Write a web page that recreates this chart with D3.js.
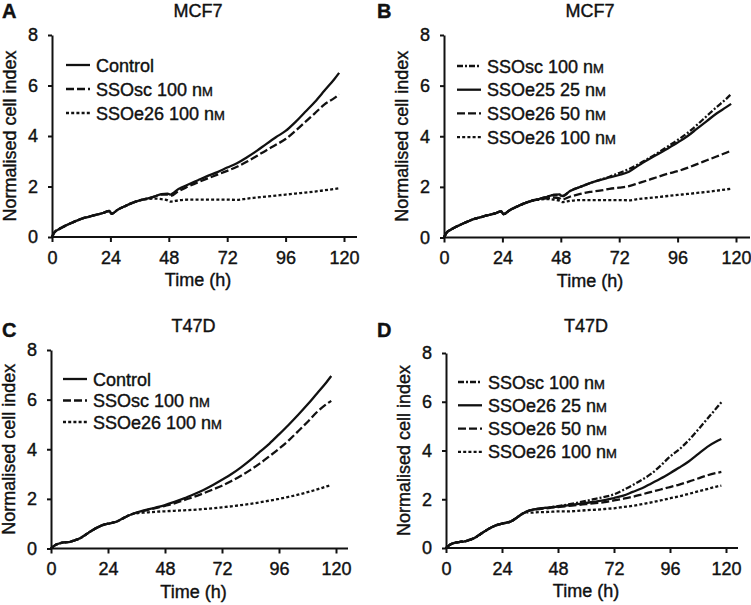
<!DOCTYPE html>
<html>
<head>
<meta charset="utf-8">
<script src="https://cdn.jsdelivr.net/npm/d3@7"></script>
<style>
  body { margin: 0; background: #fff; }
  svg text { font-family: "Liberation Sans", Arial, sans-serif; fill: #111; stroke: #111; stroke-width: 0.4px; }
</style>
</head>
<body>
<svg id="fig" width="751" height="605"></svg>
<script>
// ---- data ----
const mcfTime = [0, 1, 3, 6, 9, 12, 15, 18, 21, 23.5, 24.5, 27, 30, 33, 36, 39, 42, 45, 47.5, 48.5,
  52, 56, 60, 64, 68, 72, 76, 80, 84, 88, 92, 96, 100, 104, 108, 112, 116, 118];
const mcfEarly = [0, 0.18, 0.32, 0.47, 0.6, 0.72, 0.8, 0.88, 0.95, 1.03, 0.92, 1.08, 1.22, 1.35, 1.45];

const mcfControl = mcfEarly.concat([1.52, 1.6, 1.7, 1.72, 1.68,
  1.9, 2.08, 2.25, 2.42, 2.57, 2.75, 2.92, 3.15, 3.4, 3.68, 3.95, 4.2, 4.55, 4.95, 5.35, 5.8, 6.25, 6.5]);
const mcfScA = mcfEarly.concat([1.52, 1.6, 1.68, 1.68, 1.62,
  1.82, 2.0, 2.17, 2.32, 2.47, 2.62, 2.78, 2.98, 3.2, 3.43, 3.65, 3.88, 4.2, 4.55, 4.9, 5.25, 5.5, 5.65]);
const mcfE26_100 = mcfEarly.concat([1.5, 1.52, 1.5, 1.45, 1.4,
  1.45, 1.48, 1.48, 1.48, 1.48, 1.48, 1.47, 1.52, 1.56, 1.6, 1.64, 1.68, 1.72, 1.76, 1.8, 1.85, 1.9, 1.93]);
const mcfScB = mcfEarly.concat([1.52, 1.6, 1.68, 1.68, 1.62,
  1.85, 2.0, 2.15, 2.28, 2.4, 2.55, 2.7, 2.9, 3.12, 3.35, 3.6, 3.85, 4.12, 4.45, 4.8, 5.15, 5.48, 5.67]);
const mcfE25_25 = mcfEarly.concat([1.52, 1.6, 1.68, 1.7, 1.64,
  1.85, 2.0, 2.15, 2.27, 2.37, 2.47, 2.6, 2.85, 3.08, 3.3, 3.52, 3.75, 4.0, 4.3, 4.6, 4.9, 5.15, 5.28]);
const mcfE26_50 = mcfEarly.concat([1.5, 1.55, 1.58, 1.55, 1.5,
  1.62, 1.72, 1.8, 1.85, 1.92, 1.97, 2.03, 2.15, 2.27, 2.4, 2.52, 2.62, 2.75, 2.9, 3.05, 3.2, 3.35, 3.43]);

const t47Time = [0, 2, 4, 6, 8, 10, 12, 14, 16, 18, 20, 22, 24, 26, 28, 30, 32, 34, 36, 40, 44,
  48, 52, 56, 60, 64, 68, 72, 76, 80, 84, 88, 92, 96, 100, 104, 108, 112, 116, 118];
const t47EarlyC = [0, 0.15, 0.22, 0.25, 0.27, 0.33, 0.4, 0.52, 0.65, 0.77, 0.87, 0.95, 1.0, 1.04, 1.1, 1.2, 1.3, 1.38];
const t47EarlyD = [0, 0.15, 0.22, 0.25, 0.27, 0.33, 0.4, 0.52, 0.65, 0.77, 0.87, 0.95, 1.0, 1.04, 1.1, 1.22, 1.36, 1.47];

const t47Control = t47EarlyC.concat([1.45, 1.56, 1.65,
  1.75, 1.88, 2.02, 2.18, 2.35, 2.55, 2.77, 3.0, 3.27, 3.57, 3.9, 4.23, 4.6, 4.98, 5.38, 5.8, 6.25, 6.7, 6.95]);
const t47ScC = t47EarlyC.concat([1.44, 1.54, 1.63,
  1.72, 1.82, 1.95, 2.08, 2.22, 2.37, 2.53, 2.72, 2.93, 3.17, 3.43, 3.72, 4.02, 4.35, 4.72, 5.1, 5.5, 5.82, 5.95]);
const t47E26_100C = t47EarlyC.concat([1.42, 1.45, 1.48,
  1.5, 1.52, 1.54, 1.56, 1.59, 1.62, 1.66, 1.7, 1.75, 1.8, 1.86, 1.93, 2.0, 2.08, 2.17, 2.27, 2.38, 2.5, 2.55]);
const t47ScD = t47EarlyD.concat([1.55, 1.62, 1.66,
  1.72, 1.78, 1.85, 1.93, 2.02, 2.1, 2.2, 2.38, 2.58, 2.8, 3.05, 3.38, 3.75, 4.05, 4.42, 4.85, 5.3, 5.75, 5.98]);
const t47E26_25 = t47EarlyD.concat([1.55, 1.62, 1.66,
  1.7, 1.75, 1.8, 1.85, 1.9, 1.96, 2.05, 2.15, 2.3, 2.45, 2.65, 2.85, 3.07, 3.3, 3.55, 3.85, 4.15, 4.38, 4.47]);
const t47E26_50 = t47EarlyD.concat([1.54, 1.6, 1.64,
  1.68, 1.72, 1.76, 1.8, 1.84, 1.88, 1.95, 2.02, 2.1, 2.2, 2.3, 2.4, 2.5, 2.6, 2.72, 2.85, 2.98, 3.08, 3.12]);
const t47E26_100D = t47EarlyD.concat([1.45, 1.47, 1.48,
  1.5, 1.5, 1.52, 1.55, 1.57, 1.6, 1.63, 1.68, 1.73, 1.8, 1.87, 1.95, 2.04, 2.12, 2.22, 2.32, 2.42, 2.52, 2.56]);

const xTicks = [0, 24, 48, 72, 96, 120];
const yTicks = [0, 2, 4, 6, 8];

// series: [label, dose unit, values, style]
const panelA = [["Control", "", mcfControl, "solid"], ["SSOsc 100 ", "nM", mcfScA, "dash"], ["SSOe26 100 ", "nM", mcfE26_100, "dot"]];
const panelB = [["SSOsc 100 ", "nM", mcfScB, "dashdot"], ["SSOe25 25 ", "nM", mcfE25_25, "solid"],
  ["SSOe26 50 ", "nM", mcfE26_50, "dash"], ["SSOe26 100 ", "nM", mcfE26_100, "dot"]];
const panelC = [["Control", "", t47Control, "solid"], ["SSOsc 100 ", "nM", t47ScC, "dash"], ["SSOe26 100 ", "nM", t47E26_100C, "dot"]];
const panelD = [["SSOsc 100 ", "nM", t47ScD, "dashdot"], ["SSOe26 25 ", "nM", t47E26_25, "solid"],
  ["SSOe26 50 ", "nM", t47E26_50, "dash"], ["SSOe26 100 ", "nM", t47E26_100D, "dot"]];

// ---- layout ----
const dashes = { solid: null, dash: "8,3", dot: "3,2.2", dashdot: "6,2,2,2" };

const panels = [
  { letter: "A", title: "MCF7", time: mcfTime, series: panelA, x0: 52, x1: 344, xEnd: 357, y0: 237, y1: 35,
    lx: 66, ly: 65, lstep: 24, ox: 0, oy: 0 },
  { letter: "B", title: "MCF7", time: mcfTime, series: panelB, x0: 444, x1: 736, xEnd: 750, y0: 237.5, y1: 35,
    lx: 457, ly: 66, lstep: 23.7, ox: 375, oy: 0 },
  { letter: "C", title: "T47D", time: t47Time, series: panelC, x0: 51, x1: 336, xEnd: 348, y0: 548.5, y1: 350,
    lx: 63, ly: 379, lstep: 21.5, ox: 0, oy: 300 },
  { letter: "D", title: "T47D", time: t47Time, series: panelD, x0: 446, x1: 726, xEnd: 738, y0: 548, y1: 353,
    lx: 458, ly: 382, lstep: 23.3, ox: 375, oy: 300 }
];

const svg = d3.select("#fig");

panels.forEach(function (p) {
  const g = svg.append("g");
  const x = d3.scaleLinear().domain([0, 120]).range([p.x0, p.x1]);
  const y = d3.scaleLinear().domain([0, 8]).range([p.y0, p.y1]);

  // x axis (line runs a bit past 120)
  const xa = g.append("g")
    .attr("transform", `translate(0,${p.y0})`)
    .call(d3.axisBottom(x).tickValues(xTicks).tickSize(5).tickPadding(9).tickSizeOuter(0));
  xa.select(".domain").remove();
  xa.selectAll(".tick line").attr("stroke", "#111").attr("stroke-width", 2);
  xa.selectAll(".tick text").attr("font-size", 18).attr("fill", "#111");
  g.append("line")
    .attr("x1", p.x0 - 1).attr("x2", p.xEnd)
    .attr("y1", p.y0).attr("y2", p.y0)
    .attr("stroke", "#111").attr("stroke-width", 2);

  // y axis
  const ya = g.append("g")
    .attr("transform", `translate(${p.x0},0)`)
    .call(d3.axisLeft(y).tickValues(yTicks).tickSize(4).tickPadding(10).tickSizeOuter(0));
  ya.select(".domain").attr("stroke", "#111").attr("stroke-width", 2);
  ya.selectAll(".tick line").attr("stroke", "#111").attr("stroke-width", 2);
  ya.selectAll(".tick text").attr("font-size", 18).attr("fill", "#111");
  xa.attr("font-family", null);
  ya.attr("font-family", null);

  // labels
  g.append("text")
    .attr("x", (p.x0 + p.x1) / 2).attr("y", p.y0 + 49)
    .attr("text-anchor", "middle").attr("font-size", 18)
    .text("Time (h)");
  g.append("text")
    .attr("transform", `translate(${p.x0 - 36},${(p.y0 + p.y1) / 2}) rotate(-90)`)
    .attr("text-anchor", "middle").attr("font-size", 18)
    .text("Normalised cell index");
  g.append("text")
    .attr("x", (p.x0 + p.x1) / 2).attr("y", p.oy + (p.oy ? 32 : 17))
    .attr("text-anchor", "middle").attr("font-size", 18)
    .text(p.title);
  g.append("text")
    .attr("x", p.ox + 2).attr("y", p.oy + (p.oy ? 37 : 18))
    .attr("font-size", 20).attr("font-weight", "bold")
    .text(p.letter);

  // lines
  const line = d3.line()
    .x((d, i) => x(p.time[i]))
    .y((d) => y(d))
    .curve(d3.curveMonotoneX);

  g.selectAll(".series")
    .data(p.series)
    .enter()
    .append("path")
    .attr("class", "series")
    .attr("d", (s) => line(s[2]))
    .attr("fill", "none")
    .attr("stroke", "#111")
    .attr("stroke-width", 2.3)
    .attr("stroke-dasharray", (s) => dashes[s[3]]);

  // legend
  const leg = g.selectAll(".legend")
    .data(p.series)
    .enter()
    .append("g")
    .attr("class", "legend")
    .attr("transform", (s, i) => `translate(${p.lx},${p.ly + i * p.lstep})`);

  leg.append("line")
    .attr("x1", 0).attr("x2", 24)
    .attr("stroke", "#111").attr("stroke-width", 2.3)
    .attr("stroke-dasharray", (s) => dashes[s[3]]);

  const lt = leg.append("text")
    .attr("x", 30).attr("y", 6.5)
    .attr("font-size", 18);
  lt.append("tspan").text((s) => s[0]);
  lt.append("tspan").text((s) => s[1] ? "n" : "");
  lt.append("tspan").attr("font-size", 13).text((s) => s[1] ? "M" : "");
});
</script>
</body>
</html>
